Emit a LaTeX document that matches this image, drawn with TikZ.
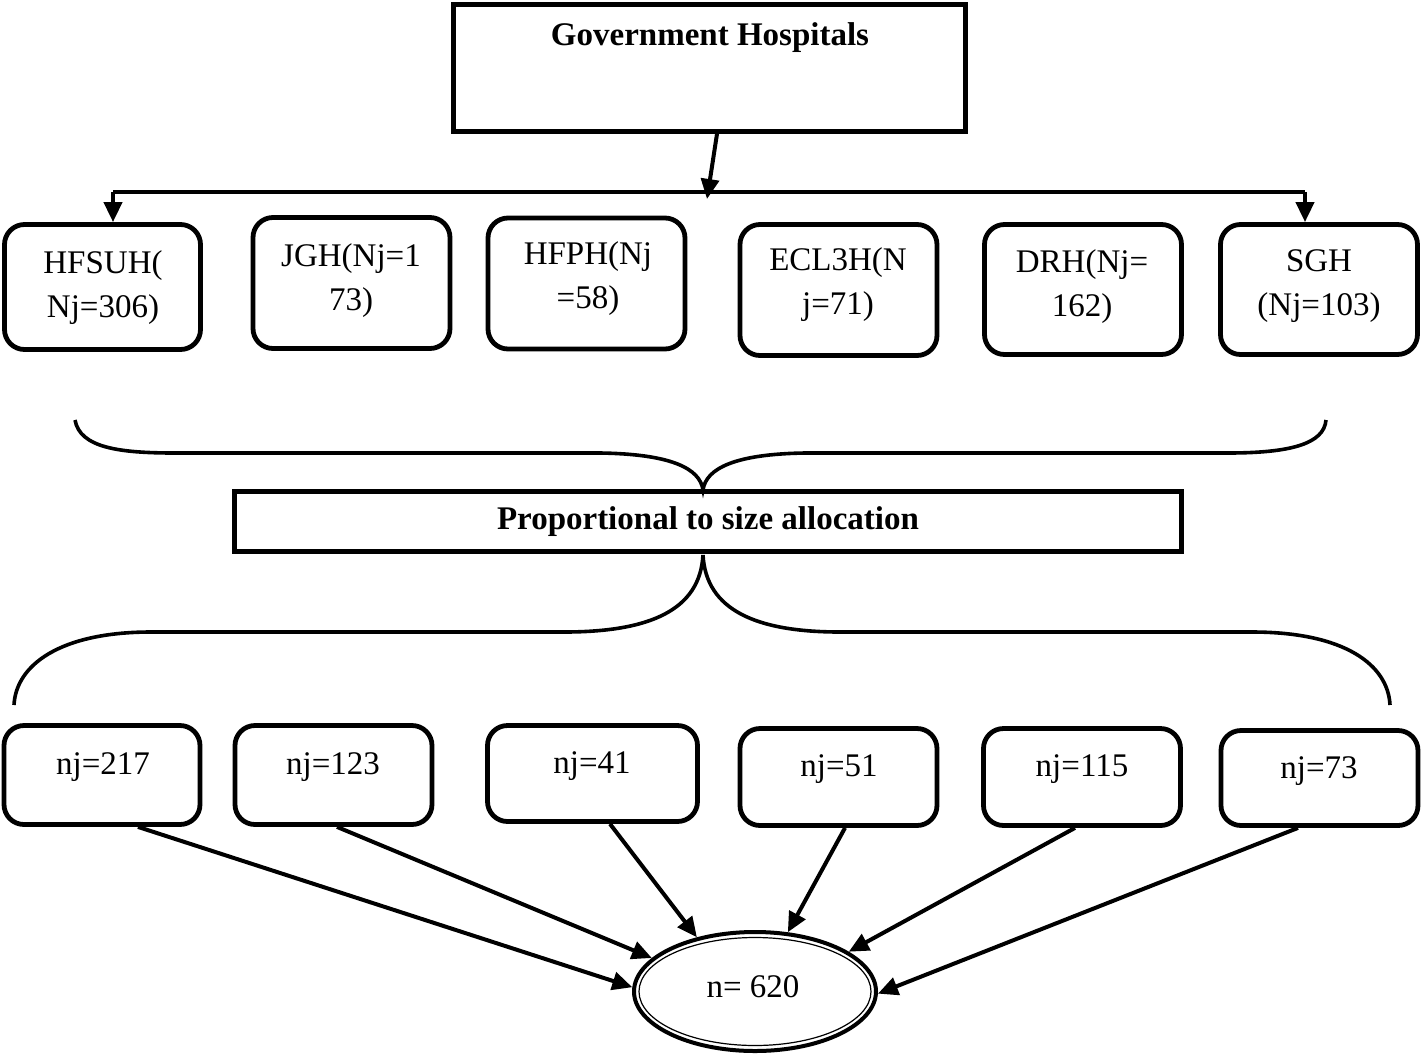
\documentclass[tikz,border=0pt]{standalone}
\usepackage{fontspec}
\setmainfont{Liberation Serif}
\usetikzlibrary{arrows.meta,shapes.geometric,calc}
\begin{document}
\begin{tikzpicture}[x=0.5pt,y=-0.5pt,
  rbox/.style={draw, line width=2.4pt, rounded corners=10pt, minimum width=98.5pt, inner sep=0pt},
  sqbox/.style={draw, line width=2.4pt, inner sep=0pt},
  lbl/.style={font=\fontsize{16.5}{22}\selectfont, align=center, inner sep=0pt},
  blbl/.style={font=\fontsize{16.5}{22}\selectfont\bfseries, inner sep=0pt},
  arr/.style={line width=2pt, -{Triangle[length=10pt,width=9pt]}},
  plain/.style={line width=2pt},
  brace/.style={line width=1.8pt},
]
\useasboundingbox (0,0) rectangle (1421,1057);

% top box
\node[sqbox, minimum width=256pt, minimum height=63.5pt] (top) at (709.5,68) {};
\node[blbl] (toptxt) at (710,38) {Government Hospitals};

% top row boxes
\node[rbox, minimum width=98pt, minimum height=62.5pt] (h1) at (102.5,287) {};
\node[rbox, minimum height=65.5pt] (h2) at (351.5,283) {};
\node[rbox, minimum height=65.5pt] (h3) at (586.5,283.5) {};
\node[rbox, minimum height=65.5pt] (h4) at (838.5,290) {};
\node[rbox, minimum height=65pt] (h5) at (1083,289.5) {};
\node[rbox, minimum height=65pt] (h6) at (1319,289.5) {};

\node[lbl] (t1) at (103,287.5) {HFSUH(\\Nj=306)};
\node[lbl] (t2) at (351,281) {JGH(Nj=1\\73)};
\node[lbl] (t3) at (588,278.5) {HFPH(Nj\\=58)};
\node[lbl] (t4) at (838,285) {ECL3H(N\\j=71)};
\node[lbl] (t5) at (1082,286.5) {DRH(Nj=\\162)};
\node[lbl] (t6) at (1319,286.5) {SGH\\(Nj=103)};

% distribution line
\coordinate (hub) at (707,199);
\coordinate (hl) at (113,192);
\coordinate (hr) at (1305,192);
\draw[arr] ($(top.south)+(7.5,0)$) -- (hub);
\draw[plain] (hl) -- (hr);
\draw[arr] (hl) -- (hl |- h1.north);
\draw[arr] (hr) -- (hr |- h6.north);

% middle box
\node[sqbox, minimum width=473.5pt, minimum height=30pt] (prop) at (708,521.5) {};
\node[blbl] (proptxt) at (708,522) {Proportional to size allocation};

% top brace
\draw[brace] (75,420) .. controls (80,448) and (120,453) .. (175,453)
  -- (600,453) .. controls (670,454) and (700,468) .. (703,490)
  .. controls (706,468) and (736,454) .. (805,453)
  -- (1228,453) .. controls (1290,453) and (1324,444) .. (1326,420);

% bottom brace
\draw[brace] (14,705) .. controls (16,665) and (60,632) .. (151,632)
  -- (564,632) .. controls (650,632) and (700,610) .. (703,555)
  .. controls (706,610) and (756,632) .. (840,632)
  -- (1252,632) .. controls (1345,632) and (1388,665) .. (1390,705);

% bottom row boxes
\node[rbox, minimum width=98pt, minimum height=49.5pt] (b1) at (102,775) {};
\node[rbox, minimum height=49.5pt] (b2) at (333.5,775) {};
\node[rbox, minimum width=105pt, minimum height=48pt] (b3) at (592.5,773.5) {};
\node[rbox, minimum height=48.5pt] (b4) at (838.5,777) {};
\node[rbox, minimum height=48.5pt] (b5) at (1082,777) {};
\node[rbox, minimum height=47.5pt] (b6) at (1319.5,778) {};

\node[lbl, anchor=base] (s1) at (103,774) {nj=217};
\node[lbl, anchor=base] (s2) at (333,774) {nj=123};
\node[lbl, anchor=base] (s3) at (592,773) {nj=41};
\node[lbl, anchor=base] (s4) at (839,776) {nj=51};
\node[lbl, anchor=base] (s5) at (1082,776) {nj=115};
\node[lbl, anchor=base] (s6) at (1319,778) {nj=73};

% total ellipse
\node[ellipse, draw, line width=2pt, minimum width=121pt, minimum height=59.5pt, inner sep=0pt] (n) at (755,991.5) {};
\draw[line width=0.6pt] (n.center) ellipse [x radius=58pt, y radius=27pt];
\node[lbl, anchor=base] (ntxt) at (753,997) {n= 620};

% arrows to total
\draw[arr] ($(b1.south)+(36,0)$) -- (n.178);
\draw[arr] ($(b2.south)+(3.5,0)$) -- (n.162.5);
\draw[arr] ($(b3.south)+(17.5,0)$) -- (n.137);
\draw[arr] ($(b4.south)+(6.5,0)$) -- (n.61);
\draw[arr] ($(b5.south)+(-7,0)$) -- (n.23);
\draw[arr] ($(b6.south)+(-21.5,0)$) -- (n.-1.6);
\end{tikzpicture}
\end{document}
